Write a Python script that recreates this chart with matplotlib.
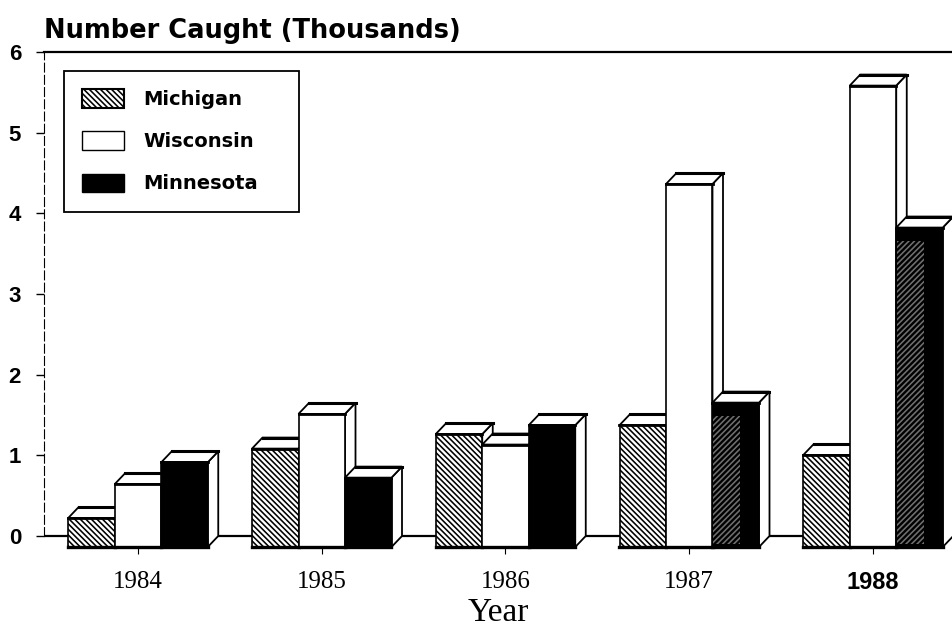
import numpy as np
import matplotlib
matplotlib.use('Agg')
import matplotlib.pyplot as plt
from matplotlib.patches import Patch

years = ['1984', '1985', '1986', '1987', '1988']
michigan = [0.36, 1.22, 1.40, 1.51, 1.14]
wisconsin = [0.78, 1.65, 1.27, 4.50, 5.72]
minnesota = [1.05, 0.86, 1.51, 1.79, 3.96]
y_ticks = [0, 1, 2, 3, 4, 5, 6]

W, H = 952, 627
left, right, top, bottom = 44, 952, 52, 547
x_scale = 183.75   # px per year group
y_scale = 80.6     # px per thousand
bar_w = 46.5 / x_scale
depth_x = 10.5 / x_scale
depth_y = 11 / y_scale

plt.rcParams['hatch.linewidth'] = 1.15
fig = plt.figure(figsize=(W / 100, H / 100), dpi=100)
ax = fig.add_axes([left / W, 1 - bottom / H, (right - left) / W, (bottom - top) / H])
ax.set_xlim((left - 138) / x_scale, (right - 138) / x_scale)
ax.set_ylim(-depth_y, 6)


def bar3d(x, value, face, hatch=None):
    """Front face plus white top and side, the front sits one depth below the back plane."""
    x0, x1 = x - bar_w / 2, x + bar_w / 2
    y0, y1 = -depth_y, value - depth_y
    ax.fill([x1, x1 + depth_x, x1 + depth_x, x1], [y0, 0, value, y1],
            facecolor='white', edgecolor='black', lw=1.3, clip_on=False, zorder=3)
    ax.fill([x0, x0 + depth_x, x1 + depth_x, x1], [y1, value, value, y1],
            facecolor='white', edgecolor='black', lw=1.3, clip_on=False, zorder=3)
    ax.plot([x0 + depth_x, x1 + depth_x], [value, value], color='black', lw=2.2,
            clip_on=False, zorder=3)
    ax.bar(x, value, bar_w, bottom=y0, color=face, edgecolor='black', lw=1.2,
           hatch=hatch, clip_on=False, zorder=3)
    ax.plot([x0, x1], [y0, y0], color='black', lw=2.4, clip_on=False, zorder=3)
    ax.plot([x0, x1], [y1, y1], color='black', lw=2, clip_on=False, zorder=3)


xs = np.arange(len(years))
for i in xs:
    bar3d(i - bar_w, michigan[i], 'white', '\\\\\\\\\\\\')
    bar3d(i, wisconsin[i], 'white')
    bar3d(i + bar_w, minnesota[i], 'black')
    if minnesota[i] > 1.6:
        # worn toner look on the tall black bars
        ax.bar(i + bar_w - bar_w * 0.2, minnesota[i] - depth_y * 1.5, bar_w * 0.58, bottom=-depth_y * 0.7,
               facecolor='none', edgecolor='#707070', lw=0, hatch='//////', clip_on=False, zorder=3)

# axes
ax.axhline(0, color='black', lw=1.6, zorder=1)
for name in ['right', 'bottom']:
    ax.spines[name].set_visible(False)
ax.spines['top'].set_linewidth(1.6)
ax.spines['left'].set_bounds(0, 6)
ax.spines['left'].set_linewidth(0.8)
ax.spines['left'].set_linestyle((0, (8, 3)))

ax.set_yticks(y_ticks)
ax.set_yticklabels([str(t) for t in y_ticks], family='Liberation Sans', weight='bold', fontsize=16)
ax.tick_params(axis='y', length=5.5, width=1, pad=11)
ax.set_xticks(xs)
ax.set_xticklabels(years, family='Liberation Serif', fontsize=18)
ax.get_xticklabels()[4].set_family('Liberation Sans')
ax.get_xticklabels()[4].set_weight('bold')
ax.get_xticklabels()[4].set_fontsize(17)
ax.tick_params(axis='x', length=5, width=0.8, pad=12)
ax.set_xlabel('Year', family='Liberation Serif', fontsize=24, labelpad=3)

ax.set_title('Number Caught (Thousands)', loc='left', family='DejaVu Sans', weight='bold',
             fontsize=18.5, pad=10, x=0)

handles = [Patch(facecolor='white', edgecolor='black', hatch='\\\\\\\\\\\\', lw=1.5),
           Patch(facecolor='white', edgecolor='black', lw=1),
           Patch(facecolor='black', edgecolor='black')]
ax_w, ax_h = right - left, bottom - top
leg = ax.legend(handles, ['Michigan', 'Wisconsin', 'Minnesota'], loc='upper left', mode='expand',
                bbox_to_anchor=((64 - left) / ax_w, 1 - (212 - top) / ax_h, 235 / ax_w, 141 / ax_h),
                borderaxespad=0, fancybox=False, framealpha=1, edgecolor='black',
                prop={'family': 'DejaVu Sans', 'weight': 'bold', 'size': 14},
                handlelength=2.15, handleheight=1.05, handletextpad=1.0,
                labelspacing=1.15, borderpad=0.95)
leg.get_frame().set_linewidth(1.3)
leg.set_zorder(5)

plt.savefig('out.png', dpi=100)
